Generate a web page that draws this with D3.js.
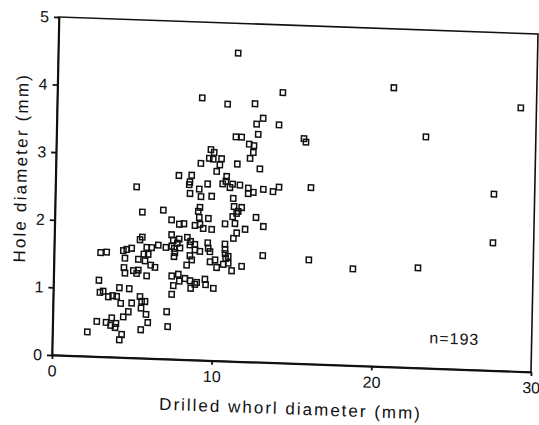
<!DOCTYPE html>
<html>
<head>
<meta charset="utf-8">
<script src="https://d3js.org/d3.v7.min.js"></script>
<style>
  body { margin: 0; background: #fff; }
  svg { display: block; font-family: "Liberation Sans", Arial, sans-serif; }
  .axis path, .axis line { stroke: #111; stroke-width: 1.8; }
  .axis text { font-size: 16px; fill: #111; }
</style>
</head>
<body>
<svg id="chart" width="539" height="425"></svg>
<script>
// whorl diameter (mm) vs hole diameter (mm)
var whorlDiameter = [
  11.26, 9.07, 10.67, 12.38, 12.91, 12.51, 12.62, 11.23, 11.59, 12.07, 12.37, 12.34, 12.14, 9.68, 9.89,
  9.59, 9.84, 10.36, 9.07, 10.26, 10.07, 11.35, 12.77, 7.71, 8.51, 8.41, 10.70, 10.66, 5.08, 8.37,
  8.43, 9.00, 9.52, 9.12, 9.79, 10.46, 10.92, 11.08, 11.54, 11.14, 12.07, 12.39, 13.01, 12.07,
  5.47, 6.78, 9.07, 8.97, 11.20, 11.68, 11.47, 7.31, 7.80, 8.09, 8.78, 9.09, 9.04, 9.61, 9.30,
  9.83, 10.66, 11.28, 11.13, 11.37, 12.59, 11.92, 13.06, 11.40, 11.20, 5.36, 5.50, 7.33, 7.44, 7.81,
  7.70, 8.32, 8.53, 8.80, 9.60, 9.64, 10.68, 10.69, 2.91, 3.29, 4.33, 4.54, 4.85, 5.79, 6.10,
  6.51, 6.99, 7.35, 7.51, 7.87, 8.49, 8.81, 9.12, 9.75, 4.44, 5.28, 5.62, 5.89, 5.70, 7.51,
  7.56, 8.50, 8.31, 8.62, 10.70, 10.74, 10.90, 13.06, 9.77, 10.08, 10.19, 10.60, 10.91, 11.13, 11.75,
  4.39, 4.46, 4.98, 5.19, 5.29, 5.82, 6.06, 6.33, 7.39, 7.80, 7.87, 8.22, 8.54, 8.59, 8.85,
  8.96, 7.50, 7.41, 9.47, 9.52, 10.01, 2.84, 2.92, 3.12, 3.45, 3.72, 3.97, 4.13, 4.75, 4.23,
  4.92, 5.43, 5.54, 5.75, 5.51, 5.83, 4.72, 4.41, 5.95, 7.12, 7.20, 2.76, 3.34, 3.69, 3.63,
  3.96, 3.91, 2.18, 4.33, 4.19, 5.52,
  14.11, 21.05, 29.02, 13.91, 15.62, 15.49, 23.12, 13.62, 13.99, 15.99, 27.45, 15.95, 18.72, 22.79, 27.45
];
var holeDiameter = [
  4.56, 3.88, 3.80, 3.82, 3.61, 3.52, 3.37, 3.32, 3.32, 3.22, 3.20, 3.10, 3.01, 3.12, 3.08,
  2.99, 2.98, 2.99, 2.91, 2.90, 2.80, 2.92, 2.86, 2.72, 2.73, 2.63, 2.73, 2.66, 2.53, 2.59,
  2.46, 2.53, 2.61, 2.42, 2.43, 2.62, 2.57, 2.62, 2.61, 2.41, 2.57, 2.51, 2.56, 2.49,
  2.16, 2.20, 2.26, 2.20, 2.29, 2.28, 2.22, 2.06, 2.00, 2.01, 1.99, 2.01, 2.11, 2.10, 1.95,
  1.94, 2.03, 2.04, 2.14, 2.19, 2.14, 1.96, 2.01, 1.90, 1.82, 1.75, 1.79, 1.84, 1.76, 1.78,
  1.72, 1.81, 1.75, 1.71, 1.74, 1.66, 1.73, 1.65, 1.54, 1.55, 1.58, 1.60, 1.62, 1.64, 1.64,
  1.68, 1.65, 1.67, 1.64, 1.65, 1.70, 1.63, 1.61, 1.61, 1.47, 1.46, 1.54, 1.54, 1.44, 1.52,
  1.58, 1.54, 1.40, 1.48, 1.59, 1.52, 1.55, 1.58, 1.46, 1.49, 1.38, 1.43, 1.45, 1.34, 1.41,
  1.33, 1.25, 1.29, 1.25, 1.30, 1.22, 1.38, 1.35, 1.23, 1.26, 1.16, 1.20, 1.17, 1.06, 1.12,
  1.15, 1.09, 0.96, 1.20, 1.12, 1.07, 1.13, 0.95, 0.97, 0.89, 0.91, 0.90, 1.03, 1.02, 0.80,
  0.81, 0.91, 0.84, 0.84, 0.74, 0.65, 0.68, 0.60, 0.53, 0.70, 0.48, 0.52, 0.51, 0.58, 0.47,
  0.50, 0.44, 0.36, 0.34, 0.26, 0.42,
  4.00, 4.13, 3.90, 3.52, 3.28, 3.33, 3.42, 2.53, 2.60, 2.61, 2.61, 1.54, 1.43, 1.48, 1.89
];
var xTicks = [0, 10, 20, 30];
var yTicks = [0, 1, 2, 3, 4, 5];
var xTitle = "Drilled whorl diameter (mm)";
var yTitle = "Hole diameter (mm)";
var nLabel = "n=193";

var svg = d3.select("#chart"),
    width = 479,
    height = 338;

// the scan sits a little crooked, so the whole plot is sheared to follow it
var g = svg.append("g")
    .attr("transform", "matrix(1,0.0355,-0.0207,1,59,17)");

var x = d3.scaleLinear().domain([0, 30]).range([0, width]);
var y = d3.scaleLinear().domain([0, 5]).range([height, 0]);

var points = whorlDiameter.map(function(d, i) { return {x: d, y: holeDiameter[i]}; });

// frame
g.append("rect")
    .attr("x", 0).attr("y", 0)
    .attr("width", width).attr("height", height)
    .attr("fill", "none")
    .attr("stroke", "#111")
    .attr("stroke-width", 1.6);

g.append("g")
    .attr("class", "axis")
    .attr("transform", "translate(0," + height + ")")
    .call(d3.axisBottom(x).tickValues(xTicks).tickFormat(d3.format("d"))
        .tickSize(4).tickPadding(6).tickSizeOuter(0));

g.append("g")
    .attr("class", "axis")
    .call(d3.axisLeft(y).tickValues(yTicks).tickFormat(d3.format("d"))
        .tickSize(5).tickPadding(5).tickSizeOuter(0));

g.append("g")
    .selectAll("rect")
    .data(points)
    .enter().append("rect")
    .attr("x", function(d) { return x(d.x) - 2.6; })
    .attr("y", function(d) { return y(d.y) - 2.8; })
    .attr("width", 5.2)
    .attr("height", 5.6)
    .attr("fill", "none")
    .attr("stroke", "#111")
    .attr("stroke-width", 1.5);

g.append("text")
    .attr("x", width / 2)
    .attr("y", height + 51)
    .attr("text-anchor", "middle")
    .attr("font-size", 17)
    .attr("letter-spacing", 2)
    .attr("fill", "#111")
    .text(xTitle);

g.append("text")
    .attr("transform", "translate(-29," + (height / 2 - 17) + ") rotate(-90)")
    .attr("text-anchor", "middle")
    .attr("font-size", 17)
    .attr("letter-spacing", 2.2)
    .attr("fill", "#111")
    .text(yTitle);

g.append("text")
    .attr("x", x(23.6))
    .attr("y", y(0.37))
    .attr("font-size", 16)
    .attr("letter-spacing", 1)
    .attr("fill", "#111")
    .text(nLabel);
</script>
</body>
</html>
